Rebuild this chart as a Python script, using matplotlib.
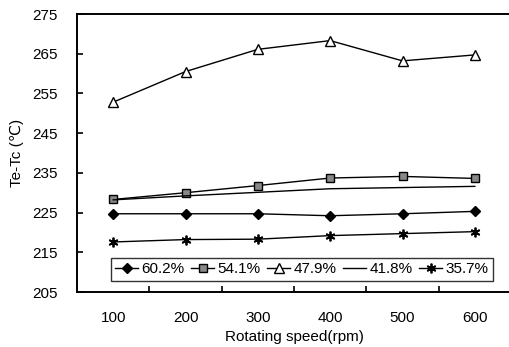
import matplotlib
matplotlib.use("Agg")
import matplotlib.pyplot as plt
import numpy as np

plt.rcParams['font.family'] = ['Liberation Sans', 'DejaVu Sans']

speeds = ["100", "200", "300", "400", "500", "600"]
s602 = [224.7, 224.7, 224.7, 224.2, 224.7, 225.3]
s541 = [228.3, 230.0, 231.8, 233.7, 234.1, 233.6]
s479 = [252.8, 260.5, 266.1, 268.3, 263.2, 264.7]
s418 = [228.2, 229.2, 230.1, 231.0, 231.3, 231.6]
s357 = [217.6, 218.2, 218.3, 219.2, 219.7, 220.2]
labels = ["60.2%", "54.1%", "47.9%", "41.8%", "35.7%"]
yticks = [205, 215, 225, 235, 245, 255, 265, 275]

fig = plt.figure(figsize=(5.09, 3.47), dpi=100)
ax = fig.add_axes([77/509, 1-292/347, (511-77)/509, (292-14)/347])
x = np.arange(len(speeds))

ax.plot(x, s602, color='black', lw=1.0, marker='D', ms=5, mfc='black', label=labels[0])
ax.plot(x, s541, color='black', lw=1.0, marker='s', ms=6, mfc='#888888', mec='black', label=labels[1])
ax.plot(x, s479, color='black', lw=1.0, marker='^', ms=7, mfc='white', mec='black', label=labels[2])
ax.plot(x, s418, color='black', lw=1.0, label=labels[3])
ax.plot(x, s357, color='black', lw=1.0, marker=(6, 2, 0), ms=7, mew=1.3, label=labels[4])

ax.set_xlim(-0.5, 5.5)
ax.set_ylim(205, 275)
ax.set_xticks(x)
ax.set_xticklabels(speeds)
ax.set_xticks(np.arange(0.5, 5.0, 1.0), minor=True)
ax.set_yticks(yticks)
ax.tick_params(axis='x', which='major', length=0, labelsize=11, pad=14)
ax.tick_params(axis='x', which='minor', direction='in', length=4, width=1.2)
ax.tick_params(axis='y', direction='in', length=4, width=1.2, labelsize=11, pad=14)
for sp in ax.spines.values():
    sp.set_linewidth(1.4)
ax.spines['right'].set_visible(False)

ax.set_xlabel("Rotating speed(rpm)", fontsize=11, labelpad=3)
ax.set_ylabel("Te-Tc (℃)", fontsize=11, labelpad=6)

leg = ax.legend(loc='lower left', bbox_to_anchor=(0.078, 0.04, 0.88, 0.1), ncol=5,
                mode='expand', fontsize=11, frameon=True, fancybox=False,
                handlelength=1.5, handletextpad=0.2, columnspacing=0.5,
                borderpad=0.3, borderaxespad=0)
leg.get_frame().set_edgecolor('black')
leg.get_frame().set_linewidth(1.0)

fig.savefig("out.png", dpi=100)
